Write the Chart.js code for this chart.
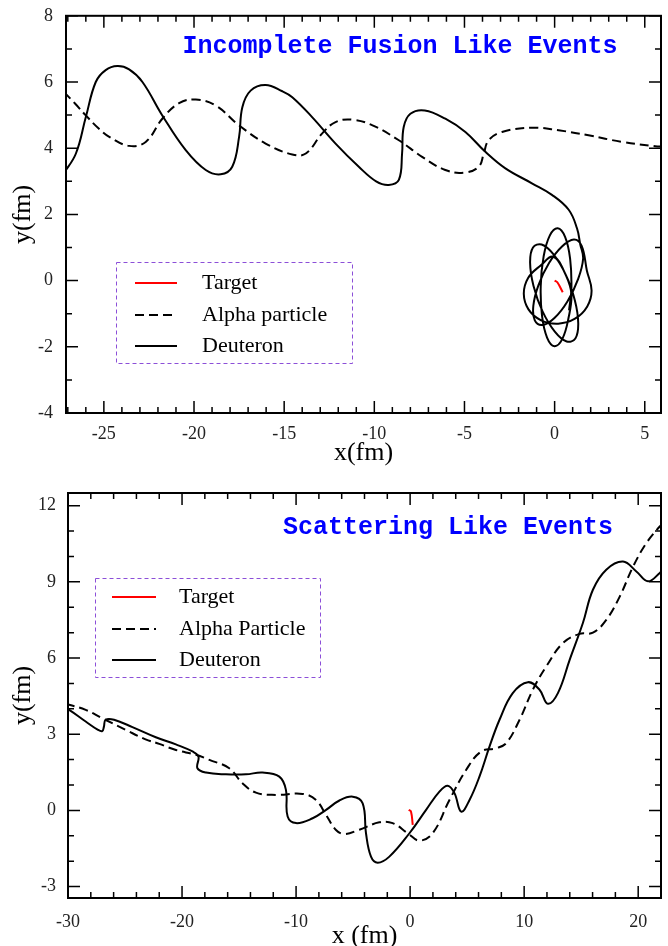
<!DOCTYPE html>
<html>
<head>
<meta charset="utf-8">
<script src="https://cdn.jsdelivr.net/npm/chart.js@4.4.1/dist/chart.umd.min.js"></script>
<style>
  html, body { margin: 0; padding: 0; background: #fff; }
  #wrap { position: relative; width: 668px; height: 946px; overflow: hidden; }
  canvas { position: absolute; left: 0; }
  #fusion { top: 0; }
  #scatter { top: 470px; }
</style>
</head>
<body>
<div id="wrap">
  <canvas id="fusion" width="668" height="470"></canvas>
  <canvas id="scatter" width="668" height="480"></canvas>
</div>
<script>
// ---- top panel: incomplete fusion like events ----
const fusionTitle = 'Incomplete Fusion Like Events';
const fusionLabels = ['Target', 'Alpha particle', 'Deuteron'];
const fusionXTicks = [-25, -20, -15, -10, -5, 0, 5];
const fusionYTicks = [-4, -2, 0, 2, 4, 6, 8];

const fusionTargetX = [0.0, 0.15, 0.45];
const fusionTargetY = [0.0, -0.05, -0.35];

const fusionAlphaX = [-27.2, -26.6, -26.0, -25.3, -24.7, -23.6, -22.68, -21.76, -20.83, -19.9, -18.8, -17.5,
  -16.03, -14.55, -13.8, -12.9, -12.15, -11.2, -10.1, -8.64, -7.35, -6.06, -5.04, -4.21, -3.93, -3.66,
  -2.92, -1.26, 0.22, 1.88, 3.73, 5.58, 6.0];
const fusionAlphaY = [5.69, 5.35, 4.99, 4.6, 4.34, 4.07, 4.19, 4.89, 5.36, 5.47, 5.29, 4.69,
  4.14, 3.81, 3.84, 4.44, 4.79, 4.86, 4.69, 4.24, 3.74, 3.34, 3.26, 3.44, 3.84, 4.24,
  4.49, 4.62, 4.54, 4.39, 4.19, 4.06, 4.05];

// deuteron: incoming path, then the loops around the target
const fusionDeutPathX = [-27.25, -26.55, -26.0, -25.45, -24.9, -24.25, -23.6, -22.86, -21.76, -20.46, -19.35,
  -18.52, -17.88, -17.5, -17.32, -16.86, -16.03, -15.1, -14.55, -13.45, -12.15, -10.86, -9.9, -9.2, -8.64,
  -8.46, -8.37, -8.0, -7.2, -6.06, -4.95, -3.84, -2.73, -1.26, -0.15, 0.78, 1.24, 1.42];
const fusionDeutPathY = [3.22, 3.84, 4.94, 6.0, 6.36, 6.48, 6.38, 6.0, 4.99, 3.94, 3.34,
  3.21, 3.44, 4.34, 5.24, 5.74, 5.91, 5.72, 5.54, 4.94, 4.14, 3.44, 3.0, 2.89, 3.04,
  3.84, 4.64, 5.04, 5.14, 4.89, 4.49, 3.89, 3.39, 2.94, 2.59, 2.14, 1.58, 1.10];
const fusionDeutLoopX = [1.58, 1.29, 0.71, -0.01, -0.67, -1.10, -1.18, -0.89, -0.31, 0.41, 1.07, 1.50,
  1.79, 2.05, 1.81, 1.13, 0.20, -0.75, -1.45, -1.71, -1.47, -0.79,
  -0.06, 0.62, 1.12, 1.31, 1.15, 0.67, 0.01, -0.67, -1.17, -1.36, -1.20, -0.72, -0.06,
  0.62, 0.93, 0.77, 0.43, -0.01, -0.42, -0.70, -0.77, -0.61, -0.27, 0.17, 0.58, 0.86, 0.93, 0.80];
const fusionDeutLoopY = [0.66, 0.03, -0.63, -1.13, -1.34, -1.20, -0.76, -0.13, 0.53, 1.03, 1.24, 1.05,
  0.30, -0.30, -0.78, -1.15, -1.30, -1.20, -0.87, -0.40, 0.08, 0.45,
  0.72, 0.17, -0.59, -1.29, -1.75, -1.84, -1.54, -0.93, -0.16, 0.54, 1.00, 1.09, 0.79,
  0.17, -0.40, -1.13, -1.76, -1.98, -1.72, -1.06, -0.16, 0.73, 1.36, 1.58, 1.32, 0.66, -0.24, -0.90];

// ---- bottom panel: scattering like events ----
const scatterTitle = 'Scattering Like Events';
const scatterLabels = ['Target', 'Alpha Particle', 'Deuteron'];
const scatterXTicks = [-30, -20, -10, 0, 10, 20];
const scatterYTicks = [-3, 0, 3, 6, 9, 12];

const scatterTargetX = [-0.12, 0.08, 0.23];
const scatterTargetY = [0.02, -0.05, -0.57];

const scatterAlphaX = [-30.2, -29.9, -28.45, -27.0, -24.93, -23.2, -22.0, -20.54, -18.79, -17.6, -15.86, -14.7,
  -13.52, -11.76, -9.43, -8.25, -7.37, -6.5, -5.77, -4.45, -2.7, -1.53, -0.21, 0.82, 1.98, 3.45, 4.92,
  6.23, 7.55, 8.43, 9.6, 10.76, 11.94, 13.4, 14.86, 16.03, 17.2, 18.38, 19.55, 20.72, 21.89, 22.2];
const scatterAlphaY = [4.18, 4.16, 3.96, 3.63, 3.17, 2.8, 2.62, 2.38, 2.19, 1.99, 1.66, 1.07,
  0.7, 0.61, 0.65, 0.41, -0.18, -0.77, -0.93, -0.76, -0.47, -0.5, -0.9, -1.19, -0.9, 0.41, 1.6,
  2.32, 2.45, 2.65, 3.57, 4.75, 5.67, 6.59, 6.95, 7.0, 7.5, 8.42, 9.6, 10.53, 11.18, 11.3];

const scatterDeutX = [-30.2, -29.9, -28.45, -27.4, -27.0, -26.85, -26.7, -25.96, -24.35, -22.3, -20.54,
  -19.08, -18.56, -18.65, -17.9, -16.15, -14.4, -12.94, -11.47, -10.89, -10.74, -10.0, -8.55, -7.37,
  -6.2, -5.03, -4.16, -3.87, -3.43, -2.84, -1.82, -0.06, 1.4, 2.57, 3.3, 3.89, 4.48, 5.21, 6.08,
  6.96, 7.84, 9.0, 10.33, 11.35, 12.08, 12.96, 13.99, 15.15, 16.03, 17.2, 18.67, 19.84, 20.86, 21.89, 22.2];
const scatterDeutY = [4.0, 3.96, 3.5, 3.18, 3.12, 3.3, 3.57, 3.57, 3.28, 2.88, 2.6,
  2.32, 2.12, 1.66, 1.49, 1.42, 1.42, 1.49, 1.33, 0.81, -0.24, -0.5, -0.31, 0.02,
  0.39, 0.54, 0.28, -0.9, -1.82, -2.06, -1.82, -0.9, 0.02, 0.74, 0.97, 0.68, -0.05, 0.41, 1.33,
  2.51, 3.57, 4.62, 5.05, 4.75, 4.2, 4.62, 5.93, 7.38, 8.69, 9.48, 9.8, 9.41, 9.02, 9.35, 9.5];

// pair up x/y lists into point objects
function zip(xs, ys) {
  return xs.map((x, i) => ({ x: x, y: ys[i] }));
}

// frame box, inward ticks on all four sides, title text, legend box
const decorPlugin = {
  id: 'decor',
  afterDraw(chart, args, opts) {
    const ctx = chart.ctx;
    const a = chart.chartArea;
    const xs = chart.scales.x, ys = chart.scales.y;
    ctx.save();

    // ticks
    ctx.strokeStyle = '#000';
    ctx.lineWidth = 1.5;
    ctx.beginPath();
    const run = (scale, step, majors, fn) => {
      const first = Math.ceil(scale.min / step - 1e-9);
      for (let i = first; i * step <= scale.max + 1e-9; i++) {
        const v = i * step;
        const isMajor = majors.some(m => Math.abs(m - v) < 1e-6);
        fn(scale.getPixelForValue(v), isMajor ? opts.majorLen : opts.minorLen);
      }
    };
    run(xs, opts.xMinor, opts.xMajors, (p, len) => {
      ctx.moveTo(p, a.bottom); ctx.lineTo(p, a.bottom - len);
      ctx.moveTo(p, a.top); ctx.lineTo(p, a.top + len);
    });
    run(ys, opts.yMinor, opts.yMajors, (p, len) => {
      ctx.moveTo(a.left, p); ctx.lineTo(a.left + len, p);
      ctx.moveTo(a.right, p); ctx.lineTo(a.right - len, p);
    });
    ctx.stroke();

    // frame
    ctx.lineWidth = 2;
    ctx.strokeRect(a.left, a.top, a.right - a.left, a.bottom - a.top);

    // title
    ctx.fillStyle = '#0000ff';
    ctx.font = 'bold 25px "Liberation Mono", "DejaVu Sans Mono", monospace';
    ctx.textAlign = 'center';
    ctx.textBaseline = 'alphabetic';
    ctx.fillText(opts.title, opts.titleX, opts.titleY);

    // legend
    const lg = opts.legend;
    ctx.strokeStyle = '#8c4fd8';
    ctx.lineWidth = 1;
    ctx.setLineDash([4, 3]);
    ctx.strokeRect(lg.left + 0.5, lg.top + 0.5, lg.width, lg.height);
    ctx.font = '22px "Liberation Serif", "Times New Roman", serif';
    ctx.textAlign = 'left';
    ctx.textBaseline = 'middle';
    chart.data.datasets.forEach((ds, i) => {
      const y = lg.rows[i];
      ctx.setLineDash(ds.borderDash || []);
      ctx.strokeStyle = ds.borderColor;
      ctx.lineWidth = 2;
      ctx.beginPath();
      ctx.moveTo(lg.lineX[0], y);
      ctx.lineTo(lg.lineX[1], y);
      ctx.stroke();
      ctx.setLineDash([]);
      ctx.fillStyle = '#000';
      ctx.fillText(ds.label, lg.textX, y);
    });
    ctx.restore();
  }
};

function buildChart(id, p) {
  const tickFont = { family: '"Liberation Serif", "Times New Roman", serif', size: 18 };
  const titleFont = { family: '"Liberation Serif", "Times New Roman", serif', size: 26, lineHeight: 1 };
  const line = {
    showLine: true, pointRadius: 0, pointHoverRadius: 0, borderWidth: 2,
    tension: 0.4, fill: false
  };
  return new Chart(document.getElementById(id), {
    type: 'scatter',
    data: {
      datasets: [
        Object.assign({ label: p.labels[0], data: p.target, borderColor: '#ff0000' }, line),
        Object.assign({ label: p.labels[1], data: p.alpha, borderColor: '#000', borderDash: [9, 5] }, line),
        Object.assign({ label: p.labels[2], data: p.deut, borderColor: '#000' }, line)
      ]
    },
    options: {
      responsive: false,
      animation: false,
      events: [],
      layout: { padding: { left: 0, top: p.padTop, right: 7, bottom: 0 } },
      plugins: {
        legend: { display: false },
        tooltip: { enabled: false },
        decor: {
          majorLen: 12, minorLen: 6,
          xMinor: p.xMinor, yMinor: p.yMinor,
          xMajors: p.xTicks, yMajors: p.yTicks,
          title: p.title, titleX: p.titleX, titleY: p.titleY,
          legend: p.legend
        }
      },
      scales: {
        x: {
          type: 'linear', min: p.xMin, max: p.xMax,
          grid: { display: false }, border: { display: false },
          afterBuildTicks: s => { s.ticks = p.xTicks.map(v => ({ value: v })); },
          afterFit: s => { s.height = p.xHeight; },
          ticks: { font: tickFont, color: '#222', padding: p.xPad, autoSkip: false, maxRotation: 0 },
          title: { display: true, text: p.xTitle, font: titleFont, color: '#000', padding: { top: 0, bottom: p.xTitlePad } }
        },
        y: {
          type: 'linear', min: p.yMin, max: p.yMax,
          grid: { display: false }, border: { display: false },
          afterBuildTicks: s => { s.ticks = p.yTicks.map(v => ({ value: v })); },
          afterFit: s => { s.width = p.yWidth; },
          ticks: { font: tickFont, color: '#222', padding: p.yPad, autoSkip: false },
          title: { display: true, text: 'y(fm)', font: titleFont, color: '#000', padding: { top: 10, bottom: 0 } }
        }
      }
    },
    plugins: [decorPlugin]
  });
}

buildChart('fusion', {
  labels: fusionLabels,
  target: zip(fusionTargetX, fusionTargetY),
  alpha: zip(fusionAlphaX, fusionAlphaY),
  deut: zip(fusionDeutPathX.concat(fusionDeutLoopX), fusionDeutPathY.concat(fusionDeutLoopY)),
  xMin: -27.1, xMax: 5.9, yMin: -4, yMax: 8,
  xTicks: fusionXTicks, yTicks: fusionYTicks, xMinor: 1, yMinor: 1,
  xTitle: 'x(fm)', title: fusionTitle, titleX: 400, titleY: 53,
  padTop: 14, xHeight: 57, yWidth: 66, xPad: 2, yPad: 5, xTitlePad: 4,
  legend: { left: 116, top: 262, width: 236, height: 101, rows: [283, 315, 346], lineX: [135, 177], textX: 202 }
});

buildChart('scatter', {
  labels: scatterLabels,
  target: zip(scatterTargetX, scatterTargetY),
  alpha: zip(scatterAlphaX, scatterAlphaY),
  deut: zip(scatterDeutX, scatterDeutY),
  xMin: -30, xMax: 22, yMin: -3.45, yMax: 12.5,
  xTicks: scatterXTicks, yTicks: scatterYTicks, xMinor: 2, yMinor: 1,
  xTitle: 'x (fm)', title: scatterTitle, titleX: 448, titleY: 64,
  padTop: 23, xHeight: 52, yWidth: 68, xPad: 5, yPad: 4, xTitlePad: 1,
  legend: { left: 95, top: 108, width: 225, height: 99, rows: [127, 159, 190], lineX: [112, 156], textX: 179 }
});
</script>
</body>
</html>
